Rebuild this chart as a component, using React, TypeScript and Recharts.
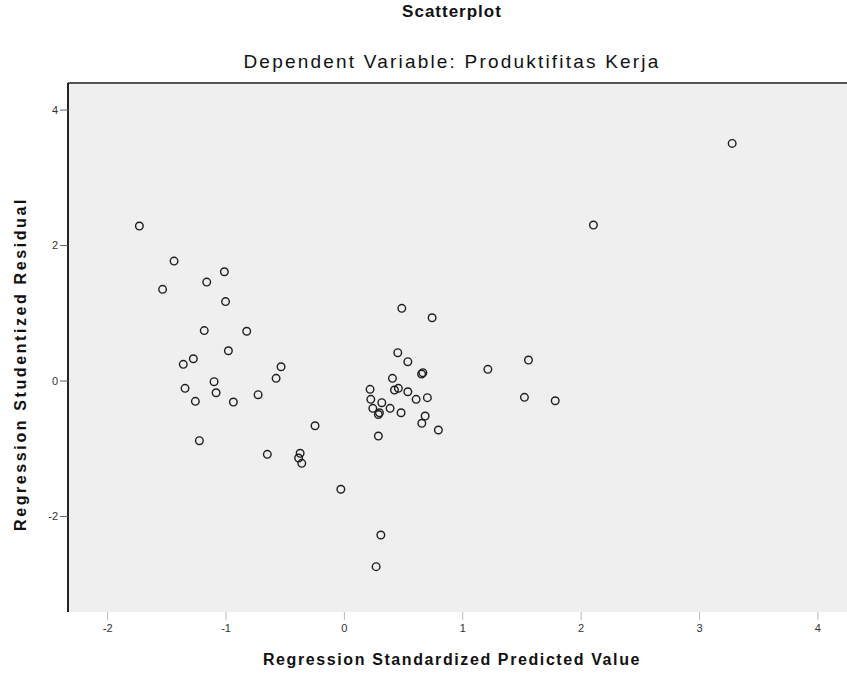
import React from 'react';
import { ScatterChart, Scatter, XAxis, YAxis, CartesianGrid, ReferenceLine } from 'recharts';

const predictedValues: number[] = [
  -1.732, -1.439, -1.536, -1.014, -1.163, -1.004, -1.184, -0.825, -0.98, -1.276,
  -1.361, -0.535, -0.577, -1.101, -1.346, -1.084, -1.259, -0.938, -0.729, -0.248,
  -1.225, -0.651, -0.374, -0.36, -0.387, -0.03,
  0.485, 0.741, 0.451, 0.536, 0.663, 0.652, 0.406, 0.217, 0.423, 0.456,
  0.536, 0.606, 0.701, 0.223, 0.316, 0.386, 0.24, 0.296, 0.287, 0.479,
  0.682, 0.654, 0.794, 0.287, 0.308, 0.268, 1.212, 1.555, 1.521, 1.781,
  2.104, 3.276,
];

const studentizedResiduals: number[] = [
  2.288, 1.771, 1.354, 1.613, 1.461, 1.173, 0.745, 0.735, 0.447, 0.329,
  0.246, 0.211, 0.04, -0.01, -0.108, -0.173, -0.3, -0.31, -0.202, -0.66,
  -0.881, -1.082, -1.067, -1.215, -1.137, -1.598,
  1.073, 0.934, 0.418, 0.285, 0.123, 0.103, 0.04, -0.123, -0.133, -0.108,
  -0.158, -0.27, -0.246, -0.27, -0.32, -0.403, -0.403, -0.468, -0.494, -0.468,
  -0.517, -0.624, -0.723, -0.812, -2.273, -2.741, 0.173, 0.31, -0.241, -0.291,
  2.303, 3.508,
];

const xTicks: number[] = [-2, -1, 0, 1, 2, 3, 4];
const yTicks: number[] = [-2, 0, 2, 4];

const xDomain: [number, number] = [-2.335, 4.246];
const yDomain: [number, number] = [-3.41, 4.4];

const points = predictedValues.map((x, i) => ({ x, y: studentizedResiduals[i] }));

const OpenCircle = (props: any) => {
  const { cx, cy } = props;
  if (cx == null || cy == null) return null;
  return <circle cx={cx} cy={cy} r={3.8} fill="none" stroke="#1e1e1e" strokeWidth={1.4} />;
};

const font = '"Liberation Sans", Arial, sans-serif';

export default function App() {
  return (
    <div style={{ position: 'absolute', left: 0, top: 0, width: 847, height: 673, background: '#ffffff', fontFamily: font }}>
      <div style={{ position: 'absolute', left: 152, width: 600, top: 2, textAlign: 'center', fontSize: 17, fontWeight: 'bold', letterSpacing: 1, color: '#111' }}>
        Scatterplot
      </div>
      <div style={{ position: 'absolute', left: 152, width: 600, top: 51, textAlign: 'center', fontSize: 19, letterSpacing: 2.2, color: '#111' }}>
        Dependent Variable: Produktifitas Kerja
      </div>
      <div style={{ position: 'absolute', left: 152, width: 600, top: 651, textAlign: 'center', fontSize: 16, fontWeight: 'bold', letterSpacing: 1.6, color: '#111' }}>
        Regression Standardized Predicted Value
      </div>
      <div
        style={{
          position: 'absolute',
          left: 21 - 300,
          width: 600,
          top: 365 - 10,
          textAlign: 'center',
          fontSize: 16,
          fontWeight: 'bold',
          letterSpacing: 2.6,
          color: '#111',
          transform: 'rotate(-90deg)',
          transformOrigin: '50% 50%',
        }}
      >
        Regression Studentized Residual
      </div>
      <div style={{ position: 'absolute', left: 0, top: 0 }}>
        <ScatterChart width={847} height={673} margin={{ top: 83, right: 0, bottom: 0, left: 0 }}>
          <CartesianGrid horizontal={false} vertical={false} fill="#efefef" />
          <XAxis
            type="number"
            dataKey="x"
            domain={xDomain}
            ticks={xTicks}
            allowDataOverflow
            height={61}
            axisLine={false}
            tickSize={8}
            tickMargin={4}
            tickLine={{ stroke: '#bbbbbb' }}
            tick={{ fontSize: 11, fill: '#333', fontFamily: font }}
          />
          <YAxis
            type="number"
            dataKey="y"
            domain={yDomain}
            ticks={yTicks}
            allowDataOverflow
            width={68}
            axisLine={{ stroke: '#222', strokeWidth: 2 }}
            tickSize={8}
            tickLine={{ stroke: '#666' }}
            tick={{ fontSize: 11, fill: '#333', fontFamily: font }}
          />
          <ReferenceLine y={yDomain[1]} stroke="#555" strokeWidth={2} />
          <Scatter data={points} shape={OpenCircle} isAnimationActive={false} />
        </ScatterChart>
      </div>
    </div>
  );
}
